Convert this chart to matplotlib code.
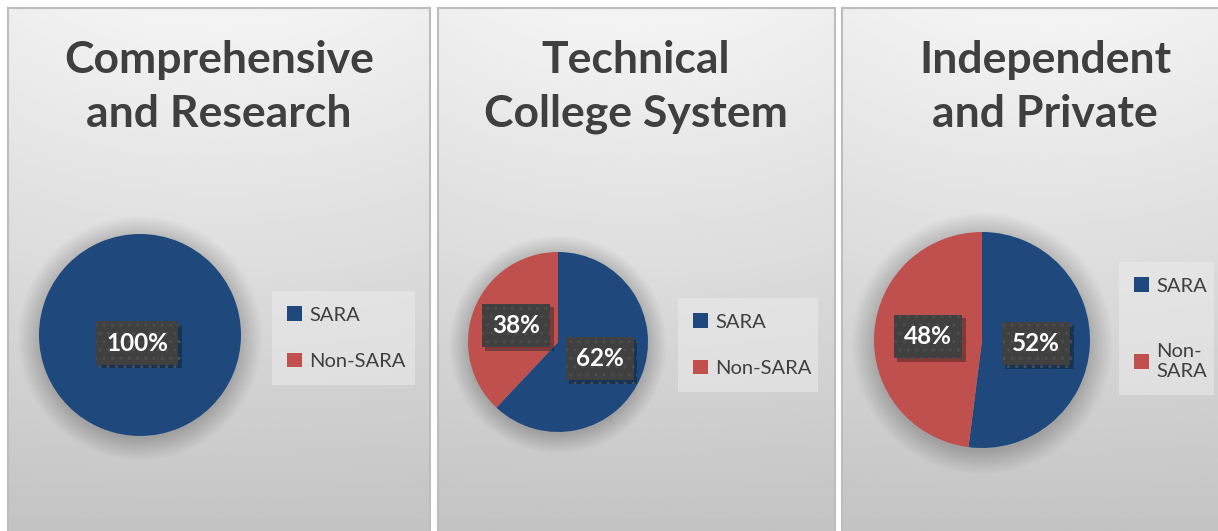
import numpy as np
import matplotlib
matplotlib.use("Agg")
import matplotlib.pyplot as plt
from matplotlib.patches import Rectangle, Circle, Patch
from matplotlib import patheffects as pe

# data
groups = ["Comprehensive\nand Research", "Technical\nCollege System", "Independent\nand Private"]
categories = ["SARA", "Non-SARA"]
sara_pct = [100, 62, 52]
non_sara_pct = [0, 38, 48]
colors = ["#1f497d", "#c0504d"]

W, H = 1218, 531
plt.rcParams['font.family'] = ['Lato', 'DejaVu Sans']

fig = plt.figure(figsize=(W / 100, H / 100), dpi=100)
fig.patch.set_facecolor("white")

def fx(x):
    return x / W

def fy(y):
    return 1 - y / H

# layout in pixels: panel edges, pie center + radius, legend box, title center
panels = [(8, 430), (438, 835), (842, 1240)]
title_x = [219, 636, 1045]
pie_spots = [(140, 335, 101), (558, 342, 90), (982, 340, 108)]
legend_spots = [(272, 291, 143), (678, 298, 140), (1119, 262, 95)]
legend_space = [1.45, 1.45, 2.4]
legend_labels = [categories, categories, ["SARA", "Non-\nSARA"]]

top = 8
for i, (x0, x1) in enumerate(panels):
    # background gradient
    bg = fig.add_axes([fx(x0), 0, fx(x1) - fx(x0), fy(top)])
    yy = np.linspace(0, 1, 200)[:, None]
    xx = np.linspace(-1, 1, 100)[None, :]
    grad = 0.955 - 0.19 * yy ** 1.1 - 0.02 * xx ** 2 * (1 - yy)
    bg.imshow(grad, cmap="gray", vmin=0, vmax=1, aspect="auto",
              extent=[0, 1, 0, 1], interpolation="bilinear")
    bg.set_xlim(0, 1)
    bg.set_ylim(0, 1)
    bg.axis("off")
    fig.patches.append(Rectangle((fx(x0), -0.01), fx(x1) - fx(x0), fy(top) + 0.01,
                                 transform=fig.transFigure, fill=False,
                                 edgecolor="#bdbdbd", lw=1.5, zorder=5))

    # title
    fig.text(fx(title_x[i]), fy(40), groups[i],
             ha="center", va="top", fontsize=32, fontweight="bold",
             color="#3f3f3f", linespacing=1.42)

    # pie
    cx, cy, r = pie_spots[i]
    ax = fig.add_axes([fx(cx - r), fy(cy + r), 2 * r / W, 2 * r / H])
    # soft glow behind the pie
    for k in range(22):
        ax.add_patch(Circle((0.0, -0.03), 1.0 + 0.01 * k, color="black",
                            alpha=0.009, lw=0, clip_on=False, zorder=0))
    vals = [sara_pct[i], non_sara_pct[i]]
    wedges, _ = ax.pie(vals, colors=colors, startangle=90, counterclock=False,
                       radius=1, wedgeprops=dict(linewidth=0))
    for w in wedges:
        w.set_zorder(2)
    ax.set_xlim(-1, 1)
    ax.set_ylim(-1, 1)
    ax.axis("off")

    # data labels
    start = 90.0
    total = float(sum(vals))
    for v in vals:
        if v == 0:
            continue
        frac = v / total
        mid = np.deg2rad(start - frac * 180)
        start -= frac * 360
        if frac >= 0.999:
            lx, ly = -0.03, -0.08
        else:
            lx, ly = 0.5 * np.cos(mid), 0.5 * np.sin(mid)
        t = ax.text(lx, ly, f"{v:.0f}%", ha="center", va="center", color="white",
                    fontsize=17.5, fontweight="bold", zorder=6,
                    bbox=dict(boxstyle="square,pad=0.42", fc="#404040",
                              ec="#4e4e4e", lw=0, hatch=".."))
        t.get_bbox_patch().set_path_effects([
            pe.SimplePatchShadow(offset=(2.5, -2.5), shadow_rgbFace="black", alpha=0.3),
            pe.Normal()])

    # legend
    lx0, ly0, lw = legend_spots[i]
    handles = [Patch(facecolor=c, edgecolor="none") for c in colors]
    leg = fig.legend(handles, legend_labels[i], loc="upper left",
                     bbox_to_anchor=(fx(lx0), fy(ly0), lw / W, 0.0), mode="expand",
                     fontsize=14.5, frameon=True, fancybox=False,
                     facecolor="#ececec", edgecolor="none", framealpha=0.55,
                     handlelength=0.75, handleheight=0.75, handletextpad=0.35,
                     labelspacing=legend_space[i], borderpad=0.75, borderaxespad=0)
    for txt in leg.get_texts():
        txt.set_color("#404040")

fig.savefig("out.png", dpi=100)
